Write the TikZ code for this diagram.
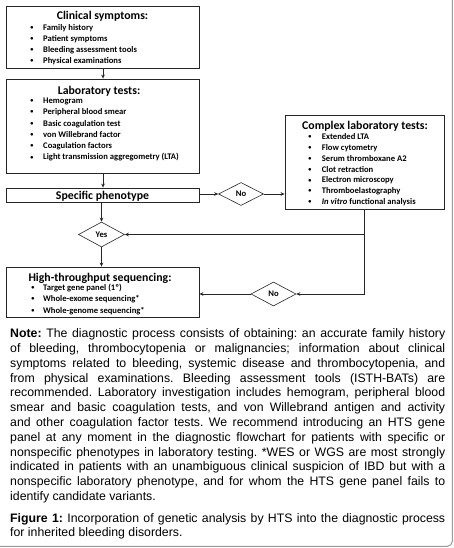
\documentclass[tikz,border=0pt]{standalone}
\usepackage{fontspec}
\setmainfont{Liberation Sans}
\newfontfamily\carl{Carlito}
\usetikzlibrary{shapes.geometric,arrows.meta}
\frenchspacing
\tikzset{
  box/.style={draw=black!85, line width=0.8pt, inner sep=0pt},
  dia/.style={diamond, draw=black!85, line width=0.6pt, inner sep=0pt, aspect=2,
    font=\carl\bfseries\fontsize{8.6}{10}\selectfont},
  ttl/.style={font=\carl\bfseries\fontsize{11.8}{13}\selectfont, inner sep=0pt, anchor=base},
  itm/.style={font=\carl\bfseries\fontsize{8.6}{10}\selectfont, inner sep=0pt, anchor=base west},
  bul/.style={font=\carl\bfseries\fontsize{6.2}{8}\selectfont, inner sep=0pt, anchor=base, yshift=0.8pt},
  arr/.style={-{Stealth[length=4pt,width=3.6pt]}, line width=0.7pt, draw=black!85},
  ln/.style={line width=0.7pt, draw=black!85},
  para/.style={anchor=north west, inner sep=0pt, text width=435pt, align=justify,
    font=\fontsize{12.3}{14.8}\selectfont}
}
\begin{document}
\begin{tikzpicture}[x=1pt,y=-1pt]
\useasboundingbox (0,0) rectangle (453,548);
\fill[white] (0,0) rectangle (453,548);
\draw[black!40, line width=1pt, rounded corners=5pt] (452.3,-2) -- (452.3,546.3) -- (-2,546.3);

% boxes
\node[box, minimum width=193pt, minimum height=62pt] (clin) at (102.5,37) {};
\node[box, minimum width=193pt, minimum height=94pt] (lab) at (102.5,126) {};
\node[box, minimum width=193pt, minimum height=14pt] (spec) at (102.5,195) {};
\node[box, minimum width=159pt, minimum height=94pt] (cplx) at (364.5,162) {};
\node[box, minimum width=193pt, minimum height=50pt] (hts) at (102.5,292) {};

% titles
\node[ttl] (clinT) at (102.5,19.7) {Clinical symptoms:};
\node[ttl] (labT) at (99,94.5) {Laboratory tests:};
\node[ttl] (specT) at (102.5,199.2) {Specific phenotype};
\node[ttl] (cplxT) at (365,129.5) {Complex laboratory tests:};
\node[ttl] (htsT) at (100,281.2) {High-throughput sequencing:};

% items
\foreach \t [count=\i] in {Family history, Patient symptoms, Bleeding assessment tools, Physical examinations}{
  \node[bul] (clinB\i) at (32,{30.5+(\i-1)*10.9}) {•};
  \node[itm] (clinI\i) at (43,{30.5+(\i-1)*10.9}) {\t};
}
\foreach \t [count=\i] in {Hemogram, Peripheral blood smear, Basic coagulation test, von Willebrand factor, Coagulation factors, Light transmission aggregometry (LTA)}{
  \node[bul] (labB\i) at (32,{103.5+(\i-1)*11.3}) {•};
  \node[itm] (labI\i) at (43,{103.5+(\i-1)*11.3}) {\t};
}
\foreach \t [count=\i] in {Extended LTA, Flow cytometry, Serum thromboxane A2, Clot retraction, Electron microscopy, Thromboelastography, {\textit{In vitro} functional analysis}}{
  \node[bul] (cplxB\i) at (310,{139.7+(\i-1)*10.8}) {•};
  \node[itm] (cplxI\i) at (321.7,{139.7+(\i-1)*10.8}) {\t};
}
\foreach \t [count=\i] in {Target gene panel (1º), Whole-exome sequencing*, Whole-genome sequencing*}{
  \node[bul] (htsB\i) at (33,{290+(\i-1)*11.5}) {•};
  \node[itm] (htsI\i) at (43,{290+(\i-1)*11.5}) {\t};
}

% diamonds
\node[dia, minimum width=45pt, minimum height=23pt] (no1) at (241,194) {No};
\node[dia, minimum width=46pt, minimum height=25pt] (yes) at (101.5,234.5) {Yes};
\node[dia, minimum width=45pt, minimum height=24pt] (no2) at (273.5,294) {No};

% connectors
\draw[arr] (clin.south -| 103,0) -- (lab.north -| 103,0);
\draw[arr] (lab.south -| 103,0) -- (spec.north -| 103,0);
\draw[arr] (spec.east |- no1.west) -- (no1.west);
\draw[arr] (no1.east) -- (cplx.west |- no1.east);
\draw[arr] (spec.south -| yes.north) -- (yes.north);
\draw[arr] (yes.south) -- (hts.north -| yes.south);
\coordinate (j1) at (cplx.south |- yes.east);
\coordinate (j2) at (cplx.south |- no2.east);
\draw[ln] (cplx.south) -- (j2);
\draw[arr] (j1) -- (yes.east);
\draw[arr] (j2) -- (no2.east);
\draw[arr] (no2.west) -- (hts.east |- no2.west);

% note and caption
\node[para] (note) at (10,328.5) {\textbf{Note:} The diagnostic process consists of obtaining: an accurate family history\linebreak
of bleeding, thrombocytopenia or malignancies; information about clinical\linebreak
symptoms related to bleeding, systemic disease and thrombocytopenia, and\linebreak
from physical examinations. Bleeding assessment tools (ISTH-BATs) are\linebreak
recommended. Laboratory investigation includes hemogram, peripheral blood\linebreak
smear and basic coagulation tests, and von Willebrand antigen and activity\linebreak
and other coagulation factor tests. We recommend introducing an HTS gene\linebreak
panel at any moment in the diagnostic flowchart for patients with specific or\linebreak
nonspecific phenotypes in laboratory testing. *WES or WGS are most strongly\linebreak
indicated in patients with an unambiguous clinical suspicion of IBD but with a\linebreak
nonspecific laboratory phenotype, and for whom the HTS gene panel fails to\linebreak
identify candidate variants.};
\node[para] (cap) at (10,513) {\textbf{Figure 1:} Incorporation of genetic analysis by HTS into the diagnostic process\linebreak
for inherited bleeding disorders.};
\end{tikzpicture}
\end{document}
